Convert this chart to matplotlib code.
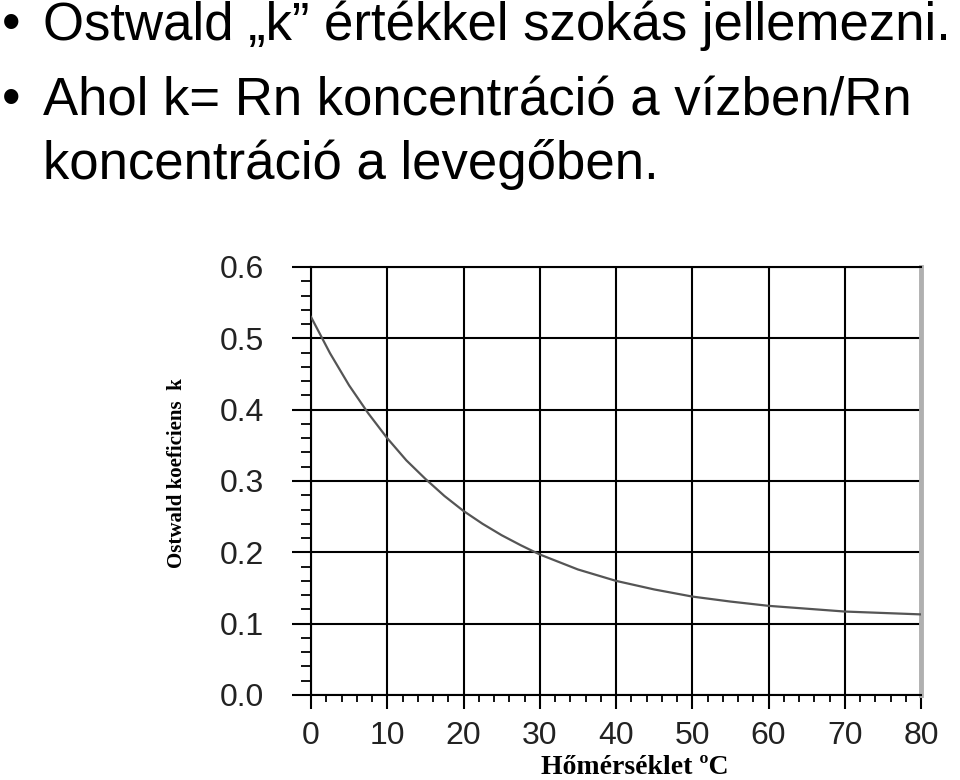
import matplotlib
matplotlib.use('Agg')
import matplotlib.pyplot as plt
from matplotlib.ticker import MultipleLocator

# - - - - - - - - - - Data - - - - - - - - - - #
temperature = [0, 2.5, 5, 7.5, 10, 12.5, 15, 17.5, 20, 22.5, 25, 27.5, 30,
               35, 40, 45, 50, 55, 60, 65, 70, 75, 80]
ostwald_k = [0.530, 0.479, 0.434, 0.395, 0.360, 0.329, 0.303, 0.279, 0.258,
             0.240, 0.224, 0.210, 0.197, 0.176, 0.160, 0.148, 0.138, 0.131,
             0.125, 0.121, 0.117, 0.115, 0.113]

x_ticks = [0, 10, 20, 30, 40, 50, 60, 70, 80]
y_ticks = [0.0, 0.1, 0.2, 0.3, 0.4, 0.5, 0.6]

bullet_lines = [
    ('•', 'Ostwald „k” értékkel szokás jellemezni.', 40),
    ('•', 'Ahol k= Rn koncentráció a vízben/Rn', 115),
    ('', 'koncentráció a levegőben.', 179),
]

W, H = 960, 780

# - - - - - - - - - - Figure - - - - - - - - - - #
fig = plt.figure(figsize=(W / 100, H / 100), dpi=100)

# slide text at the top
for bullet, text, baseline in bullet_lines:
    if bullet:
        fig.text(2 / W, 1 - baseline / H, bullet, fontsize=38,
                 family='Liberation Sans', va='baseline', ha='left')
    fig.text(43 / W, 1 - baseline / H, text, fontsize=38,
             family='Liberation Sans', va='baseline', ha='left')

# chart
ax = fig.add_axes([311 / W, 1 - 695 / H, 610 / W, 428 / H])
ax.plot(temperature, ostwald_k, color='#555555', lw=1.6, zorder=3)

ax.set_xlim(0, 80)
ax.set_ylim(0, 0.6)
ax.set_xticks(x_ticks)
ax.set_yticks(y_ticks)
ax.set_yticklabels([f'{v:.1f}' for v in y_ticks])
ax.xaxis.set_minor_locator(MultipleLocator(2))
ax.yaxis.set_minor_locator(MultipleLocator(0.02))

ax.grid(True, which='major', color='black', lw=1.5)
ax.tick_params(axis='x', which='major', length=10, width=1.5, pad=9,
               labelsize=23, labelfontfamily='Liberation Sans', labelcolor='#222222')
ax.tick_params(axis='x', which='minor', length=5, width=1.3)
ax.tick_params(axis='y', which='major', length=14, width=1.5, pad=20,
               labelsize=23, labelfontfamily='Liberation Sans', labelcolor='#222222')
ax.tick_params(axis='y', which='minor', length=7, width=1.3)

for side in ['left', 'top', 'bottom']:
    ax.spines[side].set_linewidth(1.5)
    ax.spines[side].set_color('black')
ax.spines['right'].set_color('#b0b0b0')
ax.spines['right'].set_linewidth(3.5)

# axis titles
fig.text(177 / W, 1 - 473 / H, 'Ostwald koeficiens  k', rotation=90,
         fontsize=15, family='Liberation Serif', weight='bold',
         ha='center', va='center')
fig.text(635 / W, 1 - 774 / H, 'Hőmérséklet ºC', fontsize=20,
         family='Liberation Serif', weight='bold', ha='center', va='baseline')

fig.savefig('out.png', dpi=100)
